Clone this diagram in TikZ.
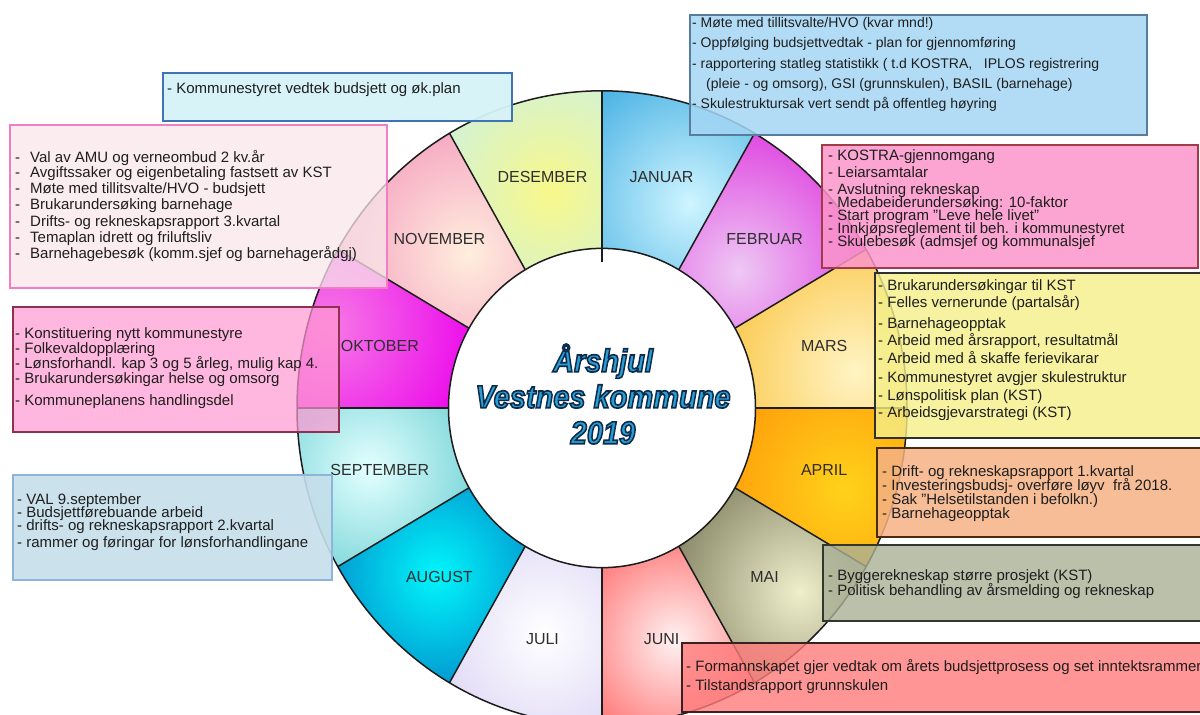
\documentclass[tikz,border=0pt]{standalone}
\usepackage{tikz}
\usepackage{graphicx}
\usepackage{fontspec}
\setmainfont{Liberation Sans}
\definecolor{JANb}{HTML}{1A9ADA}\definecolor{JANl}{HTML}{CFF5FF}
\definecolor{FEBb}{HTML}{DC28DC}\definecolor{FEBl}{HTML}{EEC8F4}
\definecolor{MARb}{HTML}{F8AE06}\definecolor{MARl}{HTML}{FFF4C4}
\definecolor{APRb}{HTML}{FF7800}\definecolor{APRl}{HTML}{FFD21A}
\definecolor{MAIb}{HTML}{3C3C1E}\definecolor{MAIl}{HTML}{EFEFCC}
\definecolor{JUNb}{HTML}{FF1818}\definecolor{JUNl}{HTML}{FFF2F2}
\definecolor{JULb}{HTML}{C4B8EE}\definecolor{JULl}{HTML}{FFFFFF}
\definecolor{AUGb}{HTML}{0650AE}\definecolor{AUGl}{HTML}{00F6FC}
\definecolor{SEPb}{HTML}{1CB0B6}\definecolor{SEPl}{HTML}{E4FFFF}
\definecolor{OKTb}{HTML}{EC08EC}\definecolor{OKTl}{HTML}{F67AE6}
\definecolor{NOVb}{HTML}{EE70AC}\definecolor{NOVl}{HTML}{FFEEDE}
\definecolor{DESb}{HTML}{C2F0F6}\definecolor{DESl}{HTML}{F8F88A}
\definecolor{linec}{HTML}{1C1C1C}
\definecolor{txtc}{HTML}{1E1E1E}
\definecolor{monthc}{HTML}{2E2E2E}
\definecolor{tfill}{HTML}{2A9FD6}
\definecolor{desF}{HTML}{D6F2F8}\definecolor{desD}{HTML}{3F73B5}
\definecolor{novF}{HTML}{F8E6EA}\definecolor{novD}{HTML}{F27DC2}
\definecolor{janF}{HTML}{A4D6F4}\definecolor{janD}{HTML}{587C9C}
\definecolor{febF}{HTML}{FB95CA}\definecolor{febD}{HTML}{A33A48}
\definecolor{marF}{HTML}{F4EF88}\definecolor{marD}{HTML}{303030}
\definecolor{aprF}{HTML}{F4B184}\definecolor{aprD}{HTML}{4A2A10}
\definecolor{maiF}{HTML}{AAB096}\definecolor{maiD}{HTML}{303830}
\definecolor{junF}{HTML}{FF7B7B}\definecolor{junD}{HTML}{3A2020}
\definecolor{oktF}{HTML}{FF98D2}\definecolor{oktD}{HTML}{8E3050}
\definecolor{sepF}{HTML}{C5DFEA}\definecolor{sepD}{HTML}{8FB4DC}
\newcommand\tabdash{\makebox[15pt][l]{-}}
% outlined text: fill with current colour, stroke dark navy
\newcommand\outl[1]{\special{pdf:literal direct 2 Tr 1.5 w 0.055 0.173 0.298 RG}#1\special{pdf:literal direct 0 Tr}}
\begin{document}
\begin{tikzpicture}[x=1pt,y=-1pt,
  wheelline/.style={draw=linec, line width=1.5pt},
  month/.style={font=\fontsize{16}{16}\selectfont, text=monthc, inner sep=0pt},
  boxtext/.style={anchor=base west, inner sep=0pt, text=txtc, font=\fontsize{15}{15}\selectfont},
  smalltext/.style={boxtext, font=\fontsize{14}{14}\selectfont},
  infobox/.style={line width=1.3pt, fill opacity=0.78},
  titlestyle/.style={font=\fontsize{29}{36}\selectfont\bfseries\itshape, align=center, inner sep=0pt}
]
\useasboundingbox (0,0) rectangle (1200,715);
\clip (0,0) rectangle (1200,715);

% ---------- wheel ----------
\begin{scope}[shift={(602,408)}, yscale=1.04]
  \foreach \a/\base/\light/\sa/\sr/\rr in {
     -90/JANb/JANl/-66/215/190,
     -60/FEBb/FEBl/-44/190/170,
     -30/MARb/MARl/-8/255/220,
       0/APRb/APRl/18/255/220,
      30/MAIb/MAIl/42/265/230,
      60/JUNb/JUNl/72/235/190,
      90/JULb/JULl/105/225/210,
     120/AUGb/AUGl/136/230/190,
     150/SEPb/SEPl/166/240/210,
     180/OKTb/OKTl/196/285/150,
     210/NOVb/NOVl/228/200/220,
     240/DESb/DESl/256/215/170}{
    \begin{scope}
      \clip (0,0) -- (\a:305) arc[start angle=\a, end angle=\a+30, radius=305] -- cycle;
      \fill[\base] (0,0) circle (310);
      \shade[inner color=\light, outer color=\base] (\sa:\sr) circle (\rr);
    \end{scope}
  }
  \foreach \a in {-60,-30,0,30,60,90,120,150,180,210,240}
    \draw[wheelline] (0,0) -- (\a:305);
  \draw[wheelline] (0,0) circle (305);
  \filldraw[fill=white, wheelline] (0,0) circle (153.5);
  \draw[wheelline] (-90:305) -- (-90:140);

  \node[month] (mJAN) at (-75:230) {JANUAR};
  \node[month] (mFEB) at (-45:230) {FEBRUAR};
  \node[month] (mMAR) at (-15:230) {MARS};
  \node[month] (mAPR) at (15:230) {APRIL};
  \node[month] (mMAI) at (45:230) {MAI};
  \node[month] (mJUN) at (75:230) {JUNI};
  \node[month] (mJUL) at (105:230) {JULI};
  \node[month] (mAUG) at (135:230) {AUGUST};
  \node[month] (mSEP) at (165:230) {SEPTEMBER};
  \node[month] (mOKT) at (195:230) {OKTOBER};
  \node[month] (mNOV) at (225:230) {NOVEMBER};
  \node[month] (mDES) at (255:230) {DESEMBER};
\end{scope}

% ---------- title ----------
\node[titlestyle, text=tfill] (title) at (603,394)
    {\outl{\scalebox{1}[1.1]{Årshjul}}\\\outl{\scalebox{1}[1.1]{Vestnes kommune}}\\\outl{\scalebox{1}[1.1]{2019}}};

% ---------- boxes ----------
\draw[infobox, fill=desF, draw=desD, line width=2pt, fill opacity=0.95] (163,73) rectangle (512,121);
\draw[infobox, fill=novF, draw=novD, line width=1.5pt, fill opacity=0.75] (10,125) rectangle (387,288);
\draw[infobox, fill=janF, draw=janD, line width=1.2pt, fill opacity=0.85] (690,15) rectangle (1147,135);
\draw[infobox, fill=febF, draw=febD, fill opacity=0.85] (822,145) rectangle (1198,268);
\draw[infobox, fill=marF, draw=marD, line width=1.8pt, fill opacity=0.8] (875,273) rectangle (1206,438);
\draw[infobox, fill=aprF, draw=aprD, fill opacity=0.85] (877,448) rectangle (1206,537);
\draw[infobox, fill=maiF, draw=maiD, fill opacity=0.8] (823,545) rectangle (1206,621);
\draw[infobox, fill=junF, draw=junD, fill opacity=0.8] (682,643) rectangle (1206,712);
\draw[infobox, fill=oktF, draw=oktD, fill opacity=0.7] (13,307) rectangle (339,432);
\draw[infobox, fill=sepF, draw=sepD, line width=1.5pt, fill opacity=0.9] (13,475) rectangle (332,580);

% ---------- box texts ----------
\node[boxtext] (des1) at (167,93) {- Kommunestyret vedtek budsjett og øk.plan};

\node[boxtext] (nov1) at (15,162) {\tabdash Val av AMU og verneombud 2 kv.år};
\node[boxtext] (nov2) at (15,177) {\tabdash Avgiftssaker og eigenbetaling fastsett av KST};
\node[boxtext] (nov3) at (15,193) {\tabdash Møte med tillitsvalte/HVO - budsjett};
\node[boxtext] (nov4) at (15,209) {\tabdash Brukarundersøking barnehage};
\node[boxtext] (nov5) at (15,226) {\tabdash Drifts- og rekneskapsrapport 3.kvartal};
\node[boxtext] (nov6) at (15,242) {\tabdash Temaplan idrett og friluftsliv};
\node[boxtext] (nov7) at (15,258) {\tabdash Barnehagebesøk (komm.sjef og barnehagerådgj)};

\node[smalltext] (jan1) at (692,27) {- Møte med tillitsvalte/HVO (kvar mnd!)};
\node[smalltext] (jan2) at (692,47) {- Oppfølging budsjettvedtak - plan for gjennomføring};
\node[smalltext] (jan3) at (692,68) {- rapportering statleg statistikk ( t.d KOSTRA,\ \ \ IPLOS registrering};
\node[smalltext] (jan4) at (706,88) {(pleie - og omsorg), GSI (grunnskulen), BASIL (barnehage)};
\node[smalltext] (jan5) at (692,108) {- Skulestruktursak vert sendt på offentleg høyring};

\node[boxtext] (feb1) at (828,160) {- KOSTRA-gjennomgang};
\node[boxtext] (feb2) at (828,177) {- Leiarsamtalar};
\node[boxtext] (feb3) at (828,194) {- Avslutning rekneskap};
\node[boxtext] (feb4) at (828,207) {- Medabeiderundersøking: 10-faktor};
\node[boxtext] (feb5) at (828,220) {- Start program "Leve hele livet"};
\node[boxtext] (feb6) at (828,233) {- Innkjøpsreglement til beh. i kommunestyret};
\node[boxtext] (feb7) at (828,246) {- Skulebesøk (admsjef og kommunalsjef};

\node[boxtext] (mar1) at (878,290) {- Brukarundersøkingar til KST};
\node[boxtext] (mar2) at (878,307) {- Felles vernerunde (partalsår)};
\node[boxtext] (mar3) at (878,328) {- Barnehageopptak};
\node[boxtext] (mar4) at (878,345) {- Arbeid med årsrapport, resultatmål};
\node[boxtext] (mar5) at (878,363) {- Arbeid med å skaffe ferievikarar};
\node[boxtext] (mar6) at (878,382) {- Kommunestyret avgjer skulestruktur};
\node[boxtext] (mar7) at (878,400) {- Lønspolitisk plan (KST)};
\node[boxtext] (mar8) at (878,417) {- Arbeidsgjevarstrategi (KST)};

\node[boxtext] (apr1) at (882,476) {- Drift- og rekneskapsrapport 1.kvartal};
\node[boxtext] (apr2) at (882,490) {- Investeringsbudsj- overføre løyv\ \ frå 2018.};
\node[boxtext] (apr3) at (882,504) {- Sak "Helsetilstanden i befolkn.)};
\node[boxtext] (apr4) at (882,518) {- Barnehageopptak};

\node[boxtext] (mai1) at (828,580) {- Byggerekneskap større prosjekt (KST)};
\node[boxtext] (mai2) at (828,595) {- Politisk behandling av årsmelding og rekneskap};

\node[boxtext] (jun1) at (686,671) {- Formannskapet gjer vedtak om årets budsjettprosess og set inntektsrammer};
\node[boxtext] (jun2) at (686,690) {- Tilstandsrapport grunnskulen};

\node[boxtext] (okt1) at (15,338) {- Konstituering nytt kommunestyre};
\node[boxtext] (okt2) at (15,353) {- Folkevaldopplæring};
\node[boxtext] (okt3) at (15,368) {- Lønsforhandl. kap 3 og 5 årleg, mulig kap 4.};
\node[boxtext] (okt4) at (15,383) {- Brukarundersøkingar helse og omsorg};
\node[boxtext] (okt5) at (15,405) {- Kommuneplanens handlingsdel};

\node[boxtext] (sep1) at (17,504) {- VAL 9.september};
\node[boxtext] (sep2) at (17,517) {- Budsjettførebuande arbeid};
\node[boxtext] (sep3) at (17,530) {- drifts- og rekneskapsrapport 2.kvartal};
\node[boxtext] (sep4) at (17,547) {- rammer og føringar for lønsforhandlingane};
\end{tikzpicture}
\end{document}
